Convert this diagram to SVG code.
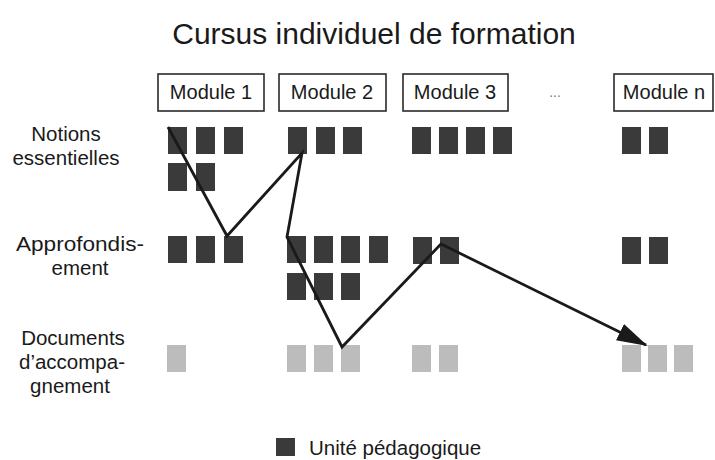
<svg xmlns="http://www.w3.org/2000/svg" width="715" height="460" viewBox="0 0 715 460">
<defs>
<style>
text{font-family:"Liberation Sans",Arial,sans-serif;fill:#1a1a1a}
.t{font-size:30px}
.m{font-size:20px;text-anchor:middle}
.l{font-size:20.5px;text-anchor:middle}
.box{fill:#fff;stroke:#2a2a2a;stroke-width:1.6}
.d{fill:#3a3a3a}
.g{fill:#bcbcbc}
.c{fill:none;stroke:#1a1a1a;stroke-width:2.8;stroke-linejoin:miter}
</style>
<marker id="ah" markerUnits="userSpaceOnUse" markerWidth="32" markerHeight="20" viewBox="0 0 32 20" refX="29" refY="9" orient="auto">
<path d="M0,0 L31,9 L0,18 z" fill="#1a1a1a"/>
</marker>
</defs>
<rect width="715" height="460" fill="#fff"/>
<text class="t" x="374" y="44" text-anchor="middle">Cursus individuel de formation</text>

<g id="row-labels">
<text class="l" x="66" y="141">Notions</text>
<text class="l" x="66" y="165">essentielles</text>
<text class="l" x="80" y="251" textLength="128" lengthAdjust="spacingAndGlyphs">Approfondis-</text>
<text class="l" x="80" y="275">ement</text>
<text class="l" x="73" y="345">Documents</text>
<text class="l" x="72" y="369">d’accompa-</text>
<text class="l" x="70" y="393">gnement</text>
</g>

<g id="module1">
<rect class="box" x="158" y="74" width="106" height="37"/>
<text class="m" x="211" y="99">Module 1</text>
<rect class="d" x="168" y="127" width="19" height="27"/>
<rect class="d" x="196" y="127" width="19" height="27"/>
<rect class="d" x="224" y="127" width="19" height="27"/>
<rect class="d" x="168" y="163" width="19" height="28"/>
<rect class="d" x="196" y="163" width="19" height="28"/>
<rect class="d" x="168" y="236" width="19" height="27"/>
<rect class="d" x="196" y="236" width="19" height="27"/>
<rect class="d" x="224" y="236" width="19" height="27"/>
<rect class="g" x="167" y="345" width="19" height="27"/>
</g>

<g id="module2">
<rect class="box" x="279" y="74" width="107" height="37"/>
<text class="m" x="332" y="99">Module 2</text>
<rect class="d" x="288" y="127" width="19" height="27"/>
<rect class="d" x="316" y="127" width="19" height="27"/>
<rect class="d" x="343" y="127" width="19" height="27"/>
<rect class="d" x="287" y="236" width="19" height="27"/>
<rect class="d" x="314" y="236" width="19" height="27"/>
<rect class="d" x="341" y="236" width="19" height="27"/>
<rect class="d" x="369" y="236" width="19" height="27"/>
<rect class="d" x="287" y="273" width="19" height="27"/>
<rect class="d" x="314" y="273" width="19" height="27"/>
<rect class="d" x="341" y="273" width="19" height="27"/>
<rect class="g" x="287" y="345" width="19" height="27"/>
<rect class="g" x="314" y="345" width="19" height="27"/>
<rect class="g" x="341" y="345" width="19" height="27"/>
</g>

<g id="module3">
<rect class="box" x="403" y="74" width="105" height="37"/>
<text class="m" x="455" y="99">Module 3</text>
<rect class="d" x="412" y="127" width="19" height="27"/>
<rect class="d" x="439" y="127" width="19" height="27"/>
<rect class="d" x="466" y="127" width="19" height="27"/>
<rect class="d" x="493" y="127" width="19" height="27"/>
<rect class="d" x="413" y="237" width="19" height="27"/>
<rect class="d" x="440" y="237" width="19" height="27"/>
<rect class="g" x="412" y="345" width="19" height="27"/>
<rect class="g" x="439" y="345" width="19" height="27"/>
</g>

<g id="ellipsis">
<text x="555" y="97" font-size="14" text-anchor="middle" style="fill:#777">...</text>
</g>

<g id="modulen">
<rect class="box" x="614" y="74" width="99" height="37"/>
<text class="m" x="664" y="99">Module n</text>
<rect class="d" x="622" y="127" width="19" height="27"/>
<rect class="d" x="649" y="127" width="19" height="27"/>
<rect class="d" x="622" y="237" width="19" height="27"/>
<rect class="d" x="649" y="237" width="19" height="27"/>
<rect class="g" x="622" y="345" width="19" height="27"/>
<rect class="g" x="648" y="345" width="19" height="27"/>
<rect class="g" x="674" y="345" width="19" height="27"/>
</g>

<g id="connectors">
<path class="c" d="M168,127 L227,236 L302,153 L287,237 L342,347 L441,244 L646,345" marker-end="url(#ah)"/>
</g>

<g id="legend">
<rect class="d" x="276" y="438" width="19" height="18"/>
<text x="309" y="455" font-size="20.5">Unité pédagogique</text>
</g>
</svg>
